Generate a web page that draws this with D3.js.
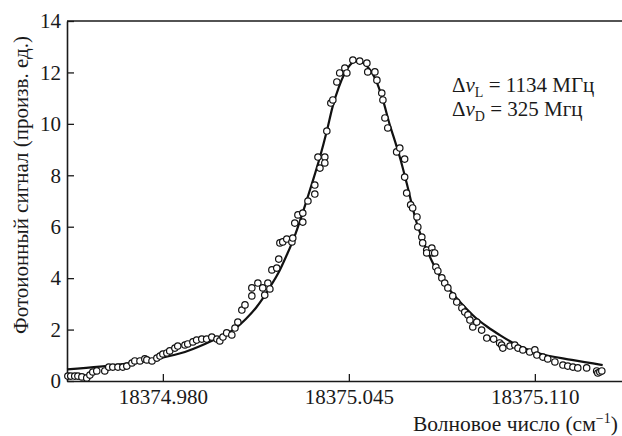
<!DOCTYPE html>
<html>
<head>
<meta charset="utf-8">
<script src="https://cdn.jsdelivr.net/npm/d3@7"></script>
<style>
  body { margin: 0; background: #fff; }
  svg { display: block; }
  svg text { font-family: "Liberation Serif", "Times New Roman", "DejaVu Serif", serif; }
</style>
</head>
<body>
<svg width="622" height="436"></svg>
<script>
(function (d3) {
    'use strict';

    // measured points (wavenumber, signal)
    const pointX = [
        18374.9468, 18374.9478, 18374.9492, 18374.9503, 18374.9517, 18374.9534, 18374.9545, 18374.9555,
        18374.9569, 18374.9597, 18374.9611, 18374.9625, 18374.9643, 18374.9660, 18374.9674, 18374.9692,
        18374.9702, 18374.9720, 18374.9737, 18374.9744, 18374.9762, 18374.9779, 18374.9790, 18374.9800,
        18374.9814, 18374.9824, 18374.9842, 18374.9852, 18374.9877, 18374.9887, 18374.9905, 18374.9918,
        18374.9936, 18374.9953, 18374.9971, 18374.9989, 18374.9999, 18375.0010, 18375.0023, 18375.0041,
        18375.0052, 18375.0062, 18375.0076, 18375.0087, 18375.0111, 18375.0111, 18375.0132, 18375.0149,
        18375.0156, 18375.0167, 18375.0174, 18375.0181, 18375.0198, 18375.0205, 18375.0209, 18375.0219,
        18375.0233, 18375.0251, 18375.0254, 18375.0261, 18375.0272, 18375.0289, 18375.0289, 18375.0307,
        18375.0331, 18375.0331, 18375.0349, 18375.0342, 18375.0366, 18375.0366, 18375.0373, 18375.0387,
        18375.0394, 18375.0408, 18375.0418, 18375.0436, 18375.0443, 18375.0464,
        18375.0488, 18375.0513, 18375.0516, 18375.0541, 18375.0548, 18375.0565, 18375.0569, 18375.0576,
        18375.0586, 18375.0617, 18375.0628, 18375.0645, 18375.0645, 18375.0652, 18375.0666, 18375.0673,
        18375.0688, 18375.0691, 18375.0705, 18375.0708, 18375.0722, 18375.0722, 18375.0740, 18375.0743,
        18375.0750, 18375.0754, 18375.0761, 18375.0775, 18375.0785, 18375.0796, 18375.0813, 18375.0827,
        18375.0845, 18375.0855, 18375.0866, 18375.0873, 18375.0883, 18375.0897, 18375.0914, 18375.0932,
        18375.0956, 18375.0977, 18375.0984, 18375.0988, 18375.1013, 18375.1030, 18375.1041, 18375.1058,
        18375.1082, 18375.1100, 18375.1107, 18375.1128, 18375.1145, 18375.1170, 18375.1198, 18375.1215,
        18375.1233, 18375.1250, 18375.1281, 18375.1316, 18375.1320, 18375.1327, 18375.1334
    ];
    const pointY = [
        0.19, 0.19, 0.19, 0.19, 0.16, 0.12, 0.23, 0.35,
        0.39, 0.39, 0.54, 0.54, 0.54, 0.54, 0.58, 0.70,
        0.78, 0.78, 0.86, 0.82, 0.78, 0.89, 0.97, 1.05,
        1.09, 1.17, 1.28, 1.36, 1.40, 1.44, 1.52, 1.59,
        1.63, 1.63, 1.71, 1.63, 1.56, 1.71, 1.87, 1.79,
        2.06, 2.29, 2.76, 2.96, 3.31, 3.62, 3.81, 3.62,
        3.34, 3.81, 3.58, 4.32, 4.39, 4.74, 5.37, 5.41,
        5.52, 5.41, 5.56, 6.14, 6.46, 6.53, 6.18, 7.00,
        7.27, 7.62, 8.28, 8.71, 8.71, 8.48, 9.72, 10.81,
        10.93, 11.63, 11.98, 12.17, 11.98, 12.48,
        12.44, 12.36, 12.02, 12.02, 11.70, 11.20, 10.93, 10.23,
        9.84, 8.91, 9.06, 8.63, 7.93, 7.31, 6.85, 6.73,
        6.38, 5.99, 5.60, 5.37, 5.09, 4.98, 5.17, 4.98,
        4.98, 4.43, 4.28, 4.01, 3.81, 3.62, 3.31, 3.07,
        2.84, 2.68, 2.57, 2.37, 2.10, 2.29, 1.98, 1.67,
        1.63, 1.48, 1.40, 1.28, 1.36, 1.40, 1.28, 1.21,
        1.13, 1.21, 1.01, 0.93, 0.86, 0.74, 0.62, 0.58,
        0.54, 0.51, 0.51, 0.39, 0.31, 0.35, 0.39
    ];

    // fitted profile
    const fitX = [
        18374.9465, 18374.9580, 18374.9685, 18374.9790, 18374.9877, 18374.9947, 18374.9999, 18375.0055,
        18375.0090, 18375.0125, 18375.0153, 18375.0181, 18375.0209, 18375.0233, 18375.0258, 18375.0279,
        18375.0303, 18375.0324, 18375.0349, 18375.0373, 18375.0394, 18375.0415, 18375.0436, 18375.0454,
        18375.0474, 18375.0495, 18375.0516, 18375.0541, 18375.0569, 18375.0593, 18375.0610, 18375.0628,
        18375.0652, 18375.0684, 18375.0712, 18375.0740, 18375.0768, 18375.0792, 18375.0820, 18375.0855,
        18375.0890, 18375.0935, 18375.0977, 18375.1030, 18375.1110, 18375.1229, 18375.1337
    ];
    const fitY = [
        0.45, 0.56, 0.70, 0.89, 1.13, 1.44, 1.71, 2.06,
        2.41, 2.84, 3.27, 3.77, 4.32, 4.90, 5.56, 6.22,
        7.04, 7.78, 8.71, 9.72, 10.70, 11.43, 11.98, 12.29,
        12.44, 12.40, 12.21, 11.78, 10.93, 9.96, 9.37, 8.71,
        7.70, 6.26, 5.37, 4.67, 4.08, 3.69, 3.31, 2.88,
        2.49, 2.10, 1.79, 1.44, 1.09, 0.82, 0.62
    ];

    const xTicks = [18374.980, 18375.045, 18375.110];
    const yTicks = [0, 2, 4, 6, 8, 10, 12, 14];

    const svg = d3.select('svg');
    const margin = { top: 21, left: 67, bottom: 55 };
    const height = +svg.attr('height');
    const innerHeight = height - margin.top - margin.bottom;
    const innerWidth = 640 - margin.left;

    const xScale = d3.scaleLinear()
        .domain([18374.9465, 18374.9465 + innerWidth / 2861.5])
        .range([0, innerWidth]);
    const yScale = d3.scaleLinear()
        .domain([0, 14])
        .range([innerHeight, 0]);

    const g = svg.append('g')
        .attr('transform', `translate(${margin.left},${margin.top})`);

    const yAxis = d3.axisLeft(yScale)
        .tickValues(yTicks)
        .tickSizeInner(-7)
        .tickSizeOuter(0)
        .tickPadding(6);
    const xAxis = d3.axisBottom(xScale)
        .tickValues(xTicks)
        .tickFormat(d3.format('.3f'))
        .tickSizeInner(-7)
        .tickSizeOuter(0)
        .tickPadding(8);

    const yG = g.append('g').call(yAxis);
    const xG = g.append('g').call(xAxis)
        .attr('transform', `translate(0,${innerHeight})`);

    [yG, xG].forEach(a => {
        a.attr('font-family', null);
        a.select('.domain').attr('stroke', '#1a1a1a').attr('stroke-width', 1.6);
        a.selectAll('.tick line').attr('stroke', '#1a1a1a').attr('stroke-width', 1.3);
        a.selectAll('.tick text')
            .attr('font-size', 21)
            .attr('fill', '#1a1a1a');
    });

    // top frame line
    g.append('line')
        .attr('x1', 0).attr('x2', innerWidth)
        .attr('y1', 0).attr('y2', 0)
        .attr('stroke', '#1a1a1a')
        .attr('stroke-width', 1.6);

    const fit = fitX.map((x, i) => ({ x: x, y: fitY[i] }));
    const points = pointX.map((x, i) => ({ x: x, y: pointY[i] }));

    const line = d3.line()
        .x(d => xScale(d.x))
        .y(d => yScale(d.y))
        .curve(d3.curveMonotoneX);

    g.append('path')
        .datum(fit)
        .attr('fill', 'none')
        .attr('stroke', '#111')
        .attr('stroke-width', 2.2)
        .attr('d', line);

    g.selectAll('circle').data(points)
        .enter().append('circle')
        .attr('cx', d => xScale(d.x))
        .attr('cy', d => yScale(d.y))
        .attr('r', 3.2)
        .attr('fill', '#fff')
        .attr('stroke', '#111')
        .attr('stroke-width', 1.2);

    // axis titles
    const xTitle = svg.append('text')
        .attr('x', 413)
        .attr('y', 431)
        .attr('font-size', 21.5)
        .attr('fill', '#1a1a1a')
        .text('Волновое число (см');
    xTitle.append('tspan')
        .attr('dy', -8)
        .attr('font-size', 14)
        .text('−1');
    xTitle.append('tspan')
        .attr('dy', 8)
        .text(')');

    svg.append('text')
        .attr('transform', 'translate(28,185) rotate(-90)')
        .attr('text-anchor', 'middle')
        .attr('font-size', 21)
        .attr('fill', '#1a1a1a')
        .text('Фотоионный сигнал (произв. ед.)');

    // widths legend
    const legend = [['L', '= 1134 МГц'], ['D', '= 325 Мгц']];
    legend.forEach((l, i) => {
        const t = svg.append('text')
            .attr('x', 452)
            .attr('y', 92 + i * 24)
            .attr('font-size', 21)
            .attr('fill', '#1a1a1a');
        t.append('tspan').text('Δ');
        t.append('tspan').attr('font-style', 'italic').text('ν');
        t.append('tspan').attr('dy', 5).attr('font-size', 14).text(l[0]);
        t.append('tspan').attr('dy', -5).text(' ' + l[1]);
    });
}(d3));
</script>
</body>
</html>
